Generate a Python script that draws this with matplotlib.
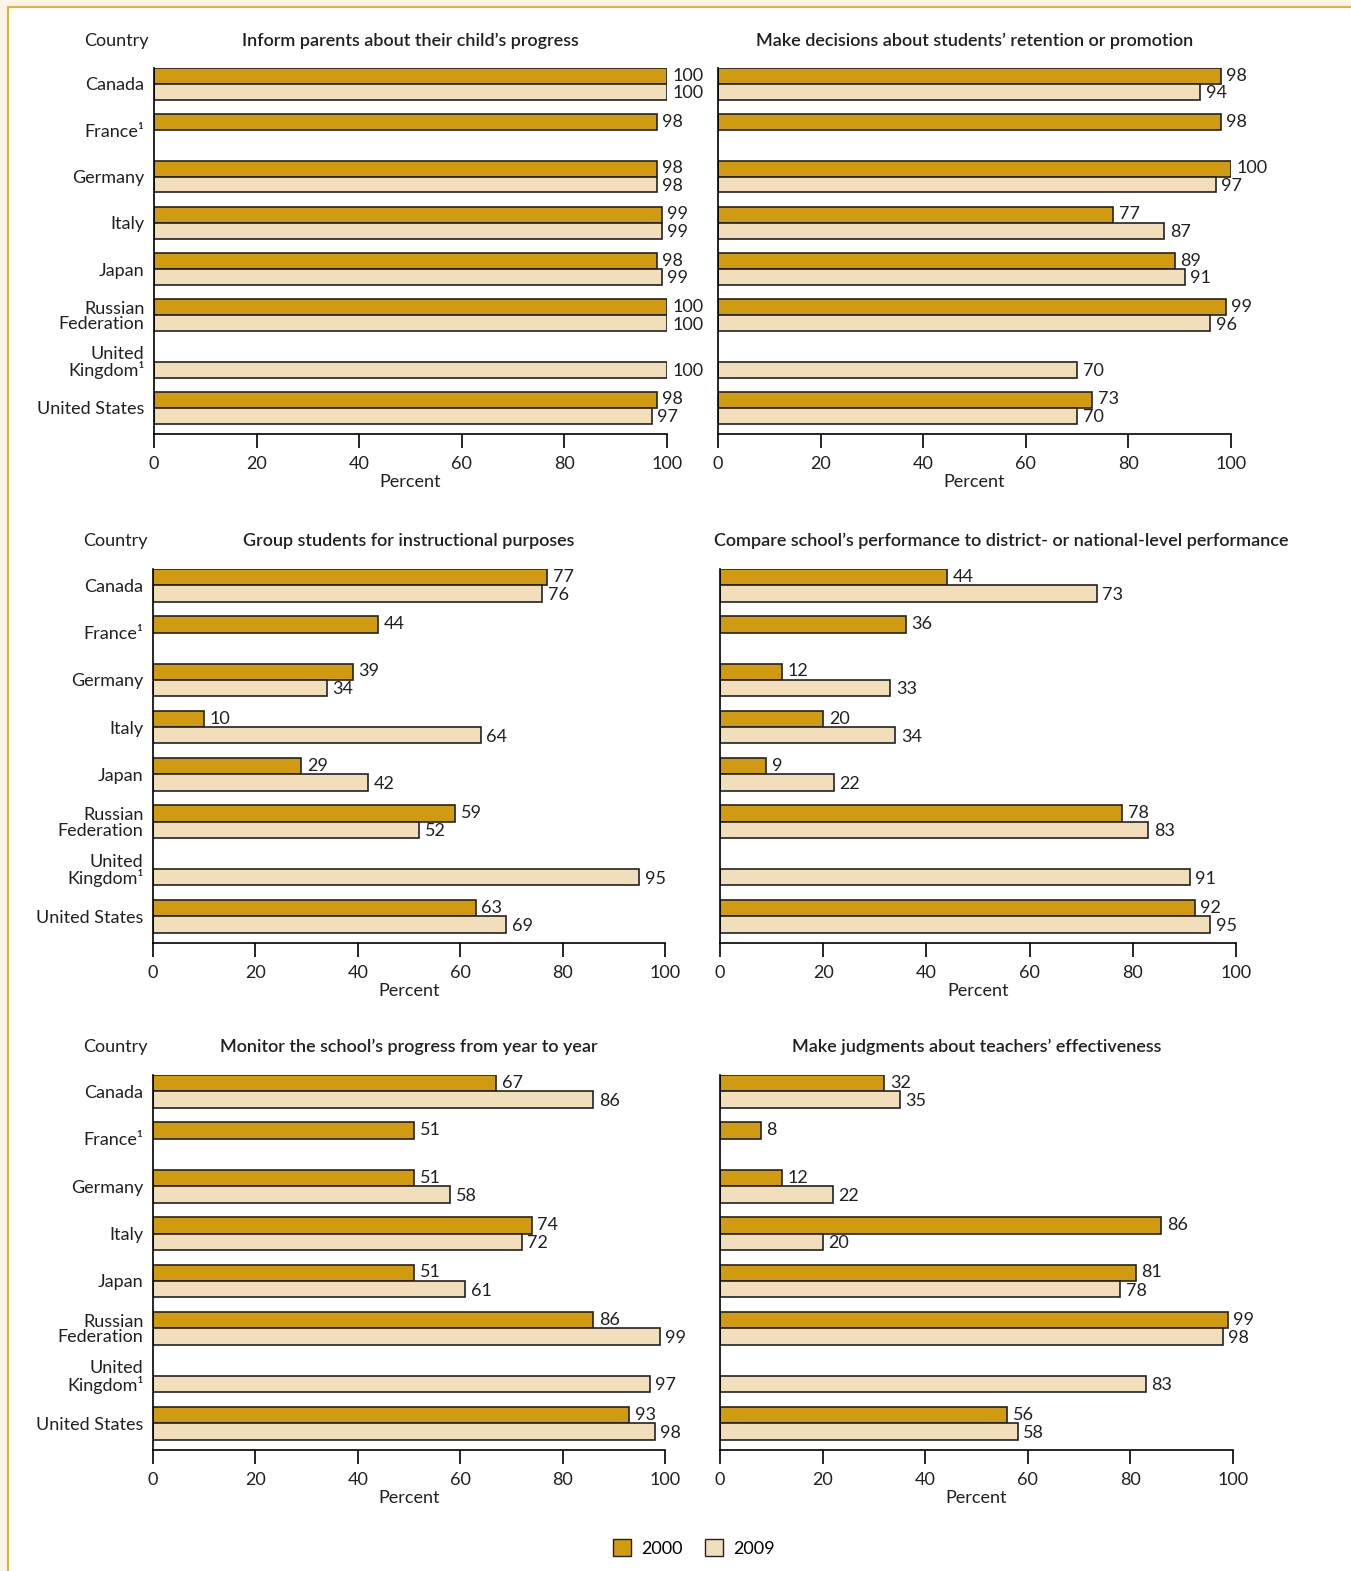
import matplotlib.pyplot as plt
from matplotlib.patches import Patch, Rectangle

plt.rcParams['font.family'] = ['Lato', 'DejaVu Sans']

countries = ['Canada', 'France\u00b9', 'Germany', 'Italy', 'Japan',
             'Russian\nFederation', 'United\nKingdom\u00b9', 'United States']

titles = ["Inform parents about their child\u2019s progress",
          "Make decisions about students\u2019 retention or promotion",
          "Group students for instructional purposes",
          "Compare school\u2019s performance to district- or national-level performance",
          "Monitor the school\u2019s progress from year to year",
          "Make judgments about teachers\u2019 effectiveness"]

# values per panel (None = not reported)
inform_2000 = [100, 98, 98, 99, 98, 100, None, 98]
inform_2009 = [100, None, 98, 99, 99, 100, 100, 97]
retention_2000 = [98, 98, 100, 77, 89, 99, None, 73]
retention_2009 = [94, None, 97, 87, 91, 96, 70, 70]
group_2000 = [77, 44, 39, 10, 29, 59, None, 63]
group_2009 = [76, None, 34, 64, 42, 52, 95, 69]
compare_2000 = [44, 36, 12, 20, 9, 78, None, 92]
compare_2009 = [73, None, 33, 34, 22, 83, 91, 95]
monitor_2000 = [67, 51, 51, 74, 51, 86, None, 93]
monitor_2009 = [86, None, 58, 72, 61, 99, 97, 98]
judge_2000 = [32, 8, 12, 86, 81, 99, None, 56]
judge_2009 = [35, None, 22, 20, 78, 98, 83, 58]

panels = [(inform_2000, inform_2009), (retention_2000, retention_2009),
          (group_2000, group_2009), (compare_2000, compare_2009),
          (monitor_2000, monitor_2009), (judge_2000, judge_2009)]

c2000 = '#D19B11'
c2009 = '#F3DEBC'
txt = '#231F20'
fs = 13

W, H = 1351, 1571
fig = plt.figure(figsize=(W / 100, H / 100), dpi=100, facecolor='#FBF3E6')
fig.patches.append(Rectangle((8 / W, -0.1), 1.2, 1.1 - 7 / H, transform=fig.transFigure,
                             facecolor='white', edgecolor='#E2B041', lw=1.5, zorder=-5))

# pixel boxes: x0, x1, ytop, ybottom
boxes = [(154, 667, 68, 434), (718, 1231, 68, 434),
         (153, 665, 569, 943), (720, 1236, 569, 943),
         (153, 665, 1075, 1450), (720, 1233, 1075, 1450)]
title_x = [0.5, 0.5, 0.5, 0.545, 0.5, 0.5]

h = 0.345
for i, ((v00, v09), (x0, x1, yt, yb)) in enumerate(zip(panels, boxes)):
    ax = fig.add_axes([x0 / W, 1 - yb / H, (x1 - x0) / W, (yb - yt) / H])
    ax.patch.set_alpha(0)
    for vals, col, dy, lab_dy in [(v00, c2000, -h / 2, -0.01), (v09, c2009, h / 2, 0.03)]:
        for j, v in enumerate(vals):
            if v is None:
                continue
            ax.barh(j + dy, v, height=h, color=col, edgecolor='#222222', lw=1.2, zorder=2)
            ax.annotate(str(v), (v, j + dy + lab_dy), xytext=(4, 0), textcoords='offset points',
                        va='center', ha='left', fontsize=fs, color=txt, annotation_clip=False)
    ax.set_xlim(0, 100)
    ax.set_ylim(7 + h + 0.22, -h)
    ax.set_xticks(range(0, 101, 20))
    ax.set_yticks(range(8))
    ax.spines['top'].set_visible(False)
    ax.spines['right'].set_visible(False)
    ax.spines['left'].set_linewidth(1.2)
    ax.spines['bottom'].set_linewidth(1.2)
    ax.tick_params(axis='x', direction='out', length=10, width=1.2, labelsize=fs,
                   labelcolor=txt, pad=6)
    ax.tick_params(axis='y', length=0, labelsize=fs, labelcolor=txt, pad=7)
    if i % 2 == 0:
        ax.set_yticklabels(countries, linespacing=0.95)
        ax.text(-0.01, 1.075, 'Country', transform=ax.transAxes, ha='right', va='center',
                fontsize=fs, color=txt)
    else:
        ax.set_yticklabels([])
    ax.set_xlabel('Percent', fontsize=fs, color=txt, labelpad=1)
    ax.text(title_x[i], 1.075, titles[i], transform=ax.transAxes, ha='center', va='center',
            fontsize=fs, fontweight='semibold', color=txt)

handles = [Patch(facecolor=c2000, edgecolor='#222222', label='2000'),
           Patch(facecolor=c2009, edgecolor='#222222', label='2009')]
fig.legend(handles=handles, loc='center', bbox_to_anchor=(694 / W, 1 - 1548 / H), ncol=2,
           frameon=False, fontsize=fs, handlelength=1.0, handleheight=1.0,
           handletextpad=0.6, columnspacing=1.2)

fig.savefig('out.png', dpi=100, facecolor=fig.get_facecolor())
